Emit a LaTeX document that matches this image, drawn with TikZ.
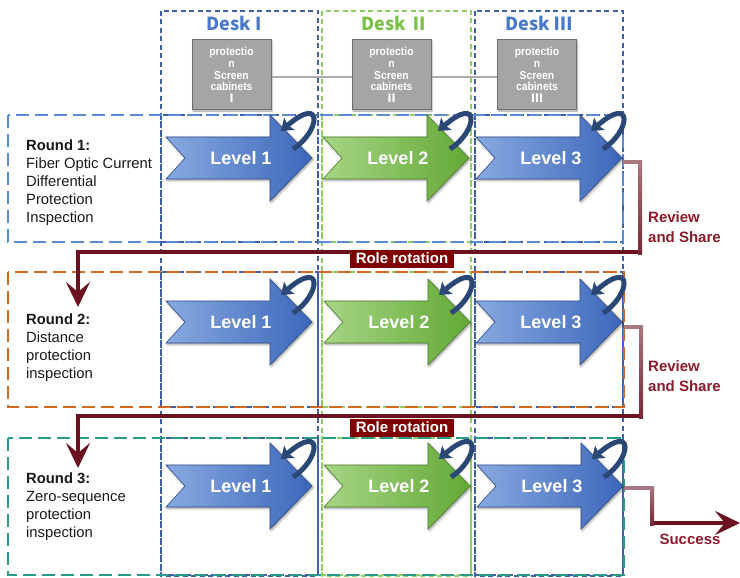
\documentclass[tikz,border=0pt]{standalone}
\usepackage{fontspec}
\setmainfont{Liberation Sans}
\newfontfamily\cjk{Noto Sans CJK SC}
\newfontfamily\narrowfont{Liberation Sans}[FakeStretch=0.9]
\usetikzlibrary{arrows.meta,shadows.blur,calc}

\definecolor{deskblue}{HTML}{3F5FA6}
\definecolor{deskgreen}{HTML}{92CC68}
\definecolor{headblue}{HTML}{4A78CA}
\definecolor{headgreen}{HTML}{7ABF46}
\definecolor{roundone}{HTML}{5B8AD6}
\definecolor{roundtwo}{HTML}{D2691E}
\definecolor{roundthree}{HTML}{2A9A8A}
\definecolor{cabfill}{HTML}{A7A4A4}
\definecolor{cabedge}{HTML}{6F6D6D}
\definecolor{cabwire}{HTML}{ABABAB}
\definecolor{bluelight}{HTML}{88A9E0}
\definecolor{bluedark}{HTML}{3C67BA}
\definecolor{greenlight}{HTML}{A6D585}
\definecolor{greendark}{HTML}{63A936}
\definecolor{navy}{HTML}{2A4776}
\definecolor{wine}{HTML}{6A1220}
\definecolor{winelight}{HTML}{A87880}
\definecolor{winetext}{HTML}{8B1A2A}
\definecolor{rolebg}{HTML}{7F0000}

% one notched block arrow with its label and the small turn-back arrow
% #1 name, #2 tip x, #3 centre y, #4 light colour, #5 dark colour, #6 label
\newcommand\levelarrow[6]{%
  \path[blur shadow={shadow xshift=1.2pt,shadow yshift=-1.2pt,shadow blur radius=2.5pt,shadow opacity=45},
        left color=#4, right color=#5, draw=#5!75!black, line width=0.6pt]
    (#2-146,#3-21) -- (#2-42,#3-21) -- (#2-42,#3-43) -- (#2,#3)
    -- (#2-42,#3+43) -- (#2-42,#3+21) -- (#2-146,#3+21) -- (#2-127,#3) -- cycle;
  \node[levellabel] (#1) at (#2-71,#3) {#6};
  \coordinate (#1tip) at (#2,#3);
  \draw[cyclearrow] ($(#1tip)+(-19,-9)$) .. controls ($(#1tip)+(8,-26)$)
    and ($(#1tip)+(12,-64)$) .. ($(#1tip)+(-31,-27)$);
}

\begin{document}
\begin{tikzpicture}[x=1pt,y=-1pt,
  colbox/.style={draw=deskblue, line width=1.1pt, dash pattern=on 5pt off 3.5pt},
  colboxg/.style={draw=deskgreen, line width=1.1pt, dash pattern=on 5pt off 3.5pt},
  roundbox/.style={line width=1.8pt, dash pattern=on 13pt off 6pt},
  levellabel/.style={text=white, font=\bfseries\fontsize{18}{20}\selectfont, inner sep=0pt},
  cyclearrow/.style={draw=navy, line width=5pt, -{Stealth[length=11pt,width=16pt,inset=2pt]}},
  wireline/.style={draw=wine, line width=4pt, line join=miter},
  bigtip/.style={-{Stealth[length=25pt,width=24pt,inset=10pt]}},
  roletag/.style={fill=rolebg, text=white, font=\bfseries\fontsize{15}{17}\selectfont,
    inner xsep=6pt, inner ysep=2pt, text height=11pt, text depth=3pt},
  sidenote/.style={text=winetext, font=\bfseries\fontsize{15}{20}\selectfont, align=left,
    inner sep=0pt, anchor=north west},
  roundtext/.style={align=left, inner sep=0pt, font=\fontsize{14.8}{18}\selectfont,
    anchor=north west, text=black!90},
  deskhead/.style={font=\cjk\bfseries\fontsize{18}{20}\selectfont, inner sep=0pt},
  cabinet/.style={fill=cabfill, draw=cabedge, line width=1pt, minimum width=79pt,
    minimum height=70pt, text=white, font=\narrowfont\bfseries\fontsize{11.5}{11.7}\selectfont,
    align=center, inner sep=0pt,
    blur shadow={shadow xshift=1pt,shadow yshift=-1pt,shadow blur radius=1.5pt,shadow opacity=35}}
]
\useasboundingbox (0,0) rectangle (740,578);

% desk columns
\draw[colbox]  (161,11) rectangle (318,576);
\draw[colboxg] (322,11) rectangle (471,576);
\draw[colbox]  (475,11) rectangle (623,576);

% desk headers
\node[deskhead, text=headblue]  (deskA) at (234,23) {Desk I};
\node[deskhead, text=headgreen] (deskB) at (395,23) {Desk Ⅱ};
\node[deskhead, text=headblue]  (deskC) at (539,23) {Desk Ⅲ};

% protection screen cabinets
\node[cabinet] (cabA) at (231.5,75) {protectio\\n\\Screen\\cabinets\\{\cjk\bfseries Ⅰ}};
\node[cabinet] (cabB) at (391.5,75) {protectio\\n\\Screen\\cabinets\\{\cjk\bfseries Ⅱ}};
\node[cabinet] (cabC) at (537,75)   {protectio\\n\\Screen\\cabinets\\{\cjk\bfseries Ⅲ}};
\draw[cabwire, line width=2pt] ($(cabA.east)+(0,2)$) -- ($(cabB.west)+(0,2)$);
\draw[cabwire, line width=2pt] ($(cabB.east)+(0,2)$) -- ($(cabC.west)+(0,2)$);

% cells of each round inside the desk columns
\foreach \ya/\yb in {115/242, 272/407, 438/575}{
  \draw[colbox]  (161,\ya) rectangle (318,\yb);
  \draw[colboxg] (322,\ya) rectangle (471,\yb);
  \draw[colbox]  (475,\ya) rectangle (623,\yb);
}

% round frames
\draw[roundbox, draw=roundone]   (8,115) rectangle (623,242);
\draw[roundbox, draw=roundtwo]   (8,272) rectangle (624,407);
\draw[roundbox, draw=roundthree] (8,438) rectangle (624,575);

% round descriptions
\node[roundtext] (txtA) at (26,140) {\textbf{Round 1:}\\Fiber Optic Current\\Differential\\Protection\\Inspection};
\node[roundtext] (txtB) at (26,314) {\textbf{Round 2:}\\Distance\\protection\\inspection};
\node[roundtext] (txtC) at (26,473) {\textbf{Round 3:}\\Zero-sequence\\protection\\inspection};

% level arrows
\levelarrow{ra1}{312}{158}{bluelight}{bluedark}{Level 1}
\levelarrow{ra2}{469}{158}{greenlight}{greendark}{Level 2}
\levelarrow{ra3}{622}{158}{bluelight}{bluedark}{Level 3}
\levelarrow{rb1}{312}{322}{bluelight}{bluedark}{Level 1}
\levelarrow{rb2}{470}{322}{greenlight}{greendark}{Level 2}
\levelarrow{rb3}{622}{322}{bluelight}{bluedark}{Level 3}
\levelarrow{rc1}{312}{486}{bluelight}{bluedark}{Level 1}
\levelarrow{rc2}{470}{486}{greenlight}{greendark}{Level 2}
\levelarrow{rc3}{623}{486}{bluelight}{bluedark}{Level 3}

% hand-over connectors between rounds
\coordinate (outA) at (623,162);
\coordinate (inB)  at (78,307);
\coordinate (outB) at (624,327);
\coordinate (inC)  at (78,468);
\coordinate (outC) at (624,488);
\coordinate (done) at (740,523);

\draw[wireline, bigtip] (outA) -- ++(17,0) |- (78,252) -- (inB);
\shade[top color=winelight, bottom color=wine!80!winelight] (638,160) rectangle (642,254);
\draw[winelight, line width=4pt] (outA) -- (640,162);

\draw[wireline, bigtip] (outB) -- ++(17,0) |- (78,416) -- (inC);
\shade[top color=winelight, bottom color=wine!80!winelight] (639,325) rectangle (643,418);
\draw[winelight, line width=4pt] (outB) -- (641,327);

\draw[wireline, bigtip] (outC) -- ++(28,0) |- (done);
\shade[top color=winelight, bottom color=wine!80!winelight] (650,486) rectangle (654,525);
\draw[winelight, line width=4pt] (outC) -- (652,488);

% connector labels
\node[roletag] (roleA) at (402,259) {Role rotation};
\node[roletag] (roleB) at (402,428) {Role rotation};
\node[sidenote] (shareA) at (648,211) {Review\\and Share};
\node[sidenote] (shareB) at (648,360) {Review\\and Share};
\node[text=winetext, font=\bfseries\fontsize{15}{17}\selectfont, inner sep=0pt] (success) at (690,539) {Success};
\end{tikzpicture}
\end{document}
